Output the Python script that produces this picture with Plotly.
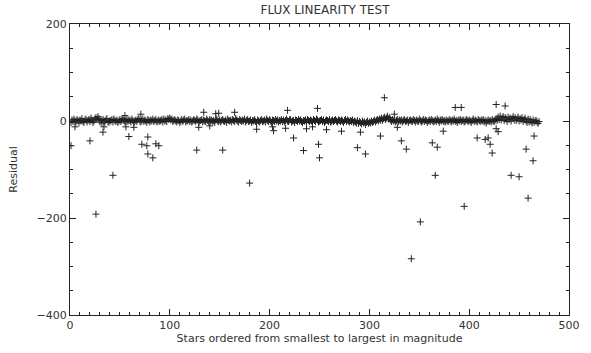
import plotly.graph_objects as go

# Band of residuals for stars 1..470 (estimated)
band_y = [
    -3, 2, -1, 4, 0, -2, 3, 1, -4, 2, 0, 5, -1, -3, 2, 4, -2, 1, 3, -1, 6, 2, -3, 0, 4, 7, 3, 9, 5, -2,
    1, -4, 3, 0, -2, 2, 5, -1, -3, 1, 0, 3, -2, 4, 1, -1, 2, -3, 0, 3, -1, 2, 5, 1, -2, 0, 3, -1, 2, 1,
    -2, 4, 1, -3, 0, 2, -1, 3, 5, 0, -2, 1, 4, -1, 2, 0, -3, 3, 1, -2, 2, 0, 4, -1, 1, 3, -2, 0, 2, -1,
    1, 3, -2, 4, 0, 2, -1, 5, 3, 6, 2, 4, -1, 1, 3, 0, -2, 2, 1, -3, 0, 3, -1, 2, 4, -2, 1, 0, 3, -1,
    2, -2, 0, 3, 1, -1, 4, 2, -3, 0, 1, 3, -2, 2, 0, -1, 4, 1, -2, 3, 0, 2, -1, 1, -3, 2, 4, 0, -1, 2,
    -2, 1, 3, 0, -1, 2, -3, 4, 1, 0, 2, -2, 3, 1, -1, 5, 2, 0, -2, 3, 1, -1, 2, 0, 4, -2, 1, 3, -1, 0,
    2, -3, 1, 0, 3, -1, -4, 2, 0, -2, 1, 3, -1, 0, 2, -2, 4, 1, -1, 3, 0, -3, 2, 1, -1, 3, 0, 2, -2, 1,
    0, 3, -1, 2, -2, 1, 4, 0, -1, 2, 3, -2, 0, 1, -3, 2, 1, -1, 3, 0, 2, -1, -3, 1, 0, 2, -2, 3, 1, -1,
    2, 0, -2, 3, 1, -1, 4, 2, -2, 0, 1, 3, -1, 2, -3, 0, 2, 1, -1, 3, -2, 0, 2, -1, 1, 3, 0, -2, 2, 1,
    -1, 2, 0, -3, 1, 3, -1, 2, 0, -2, 1, -1, 2, -3, 0, -2, -4, 1, -5, -1, -3, -6, 0, -4, -2, -7, -3, 0, -5, -2,
    -4, 0, -3, -1, 2, -2, 1, 3, 0, 4, 2, 6, 1, 5, 8, 3, 6, 10, 4, 7, 2, -1, 3, 0, 2, -2, 1, 3, -1, 2,
    0, 2, -2, 1, 3, -1, 0, 2, -3, 1, 2, 0, -1, 3, 1, -2, 2, 0, -1, 4, 1, -2, 0, 3, -1, 2, 1, -3, 0, 2,
    -1, 3, 1, -2, 0, 2, -1, 4, 1, -3, 2, 0, 3, -1, 1, -2, 2, 0, -1, 3, 1, -2, 2, 0, 4, -1, 1, -3, 2, 0,
    3, -1, 1, 2, -2, 0, 3, 1, -1, 2, 0, -3, 1, 4, -1, 2, 0, -2, 3, 1, -1, 2, 0, 3, -2, 1, -4, 0, 2, -1,
    1, -2, 3, 0, -1, 2, 5, 1, 8, 3, 10, 2, 6, 9, 1, 7, 4, -1, 8, 3, 6, 0, 5, 9, 2, 7, 1, 4, 8, 0,
    5, 2, 7, -1, 3, 6, 0, -3, 4, -2, 3, -1, -4, 2, -3, 0, 1, -2, -5, -1,
]
band_x = list(range(1, len(band_y) + 1))

# Outlying residuals (star index, residual)
out_x = [1, 5, 20, 26, 33, 34, 43, 55, 56, 59, 64, 71, 72, 77, 78, 78, 83, 86, 89,
         127, 129, 134, 140, 146, 149, 153, 165, 180, 187, 203, 204, 216, 218, 224,
         234, 237, 243, 248, 249, 250, 257, 272, 288, 291, 296, 311, 315, 325, 328,
         332, 337, 342, 351, 363, 366, 368, 374, 386, 392, 395, 408, 416, 419, 421,
         423, 427, 427, 429, 436, 442, 450, 457, 459, 464, 465]
out_y = [-51, -12, -41, -192, -23, -12, -112, 11, -12, -32, -13, 14, -48, -51, -33, -68, -76, -47, -51,
         -60, -13, 18, -10, 15, 16, -60, 18, -128, -17, -12, -20, -15, 22, -35,
         -61, -16, -12, 26, -48, -76, -18, -21, -55, -23, -68, -31, 48, 14, -13,
         -41, -58, -284, -208, -45, -112, -54, -21, 28, 28, -176, -35, -38, -35, -48,
         -66, -16, 34, -22, 31, -112, -115, -58, -159, -82, -31]

title_text = "FLUX LINEARITY TEST"
x_title = "Stars ordered from smallest to largest in magnitude"
y_title = "Residual"
x_ticks = [0, 100, 200, 300, 400, 500]
y_ticks = [-400, -200, 0, 200]

ink = "#222222"
marker = dict(symbol="cross-thin", size=5, color=ink, line=dict(width=1, color=ink))

fig = go.Figure()
fig.add_trace(go.Scatter(x=band_x, y=band_y, mode="markers", marker=marker, showlegend=False))
fig.add_trace(go.Scatter(x=out_x, y=out_y, mode="markers", marker=marker, showlegend=False))

font = dict(family="DejaVu Sans", size=11, color="#333333")
axis_common = dict(
    showline=True, linecolor=ink, linewidth=1, mirror="ticks",
    ticks="inside", ticklen=6, tickcolor=ink, tickwidth=1,
    showgrid=False, zeroline=False, tickfont=font,
)
fig.update_xaxes(range=[0, 500], tickvals=x_ticks,
                 minor=dict(dtick=10, ticks="inside", ticklen=3, tickcolor=ink),
                 title=dict(text=x_title, font=font, standoff=2), **axis_common)
fig.update_yaxes(range=[-400, 200], tickvals=y_ticks,
                 minor=dict(dtick=50, ticks="inside", ticklen=3, tickcolor=ink),
                 title=dict(text=y_title, font=font, standoff=16), **axis_common)
fig.update_layout(
    width=591, height=353,
    margin=dict(l=70, r=11, t=24, b=32),
    paper_bgcolor="white", plot_bgcolor="white",
    title=dict(text=title_text, x=(70 + 580) / 2 / 591, xanchor="center",
               y=1 - 10 / 353, yanchor="middle",
               font=dict(family="DejaVu Sans", size=12, color="#333333")),
)
fig.write_html("out.html")
